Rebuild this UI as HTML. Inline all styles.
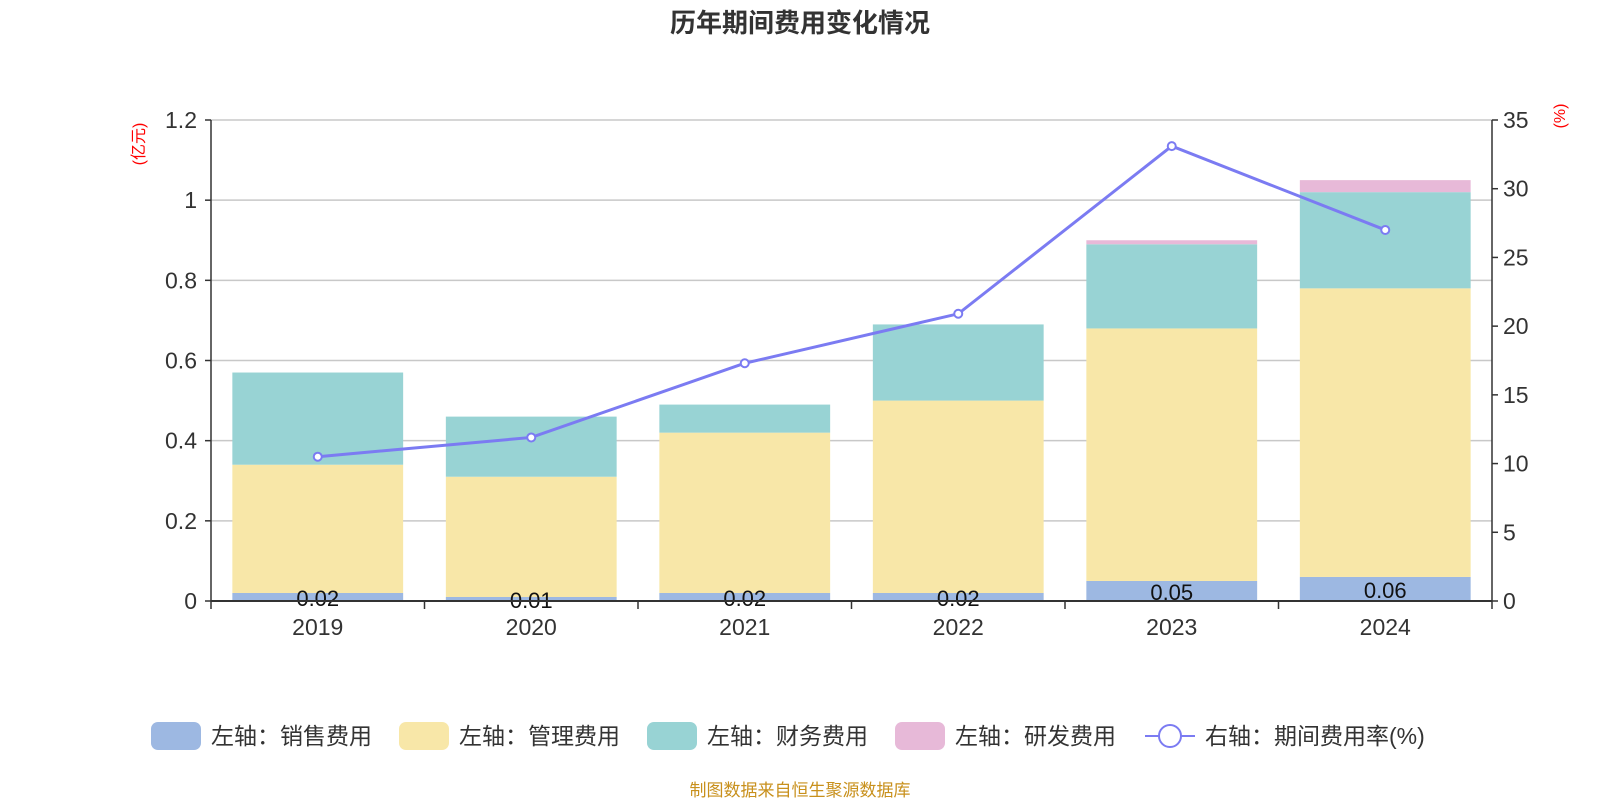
<!DOCTYPE html>
<html><head><meta charset="utf-8"><style>
body{margin:0;background:#fff;}
svg text{font-family:"Liberation Sans","Noto Sans CJK SC",sans-serif;}
</style></head><body>
<svg id="c" width="1600" height="800"></svg>
<script>
const categories=['2019','2020','2021','2022','2023','2024'];
const sales=[0.02,0.01,0.02,0.02,0.05,0.06];
const mgmt=[0.32,0.30,0.40,0.48,0.63,0.72];
const fin=[0.23,0.15,0.07,0.19,0.21,0.24];
const rd=[0,0,0,0,0.01,0.03];
const rate=[10.5,11.9,17.3,20.9,33.1,27.0];
const leftTicks=['0','0.2','0.4','0.6','0.8','1','1.2'];
const rightTicks=['0','5','10','15','20','25','30','35'];
const seriesNames=['左轴：销售费用','左轴：管理费用','左轴：财务费用','左轴：研发费用','右轴：期间费用率(%)'];
const colors=['#9db8e2','#f8e7a8','#98d3d4','#e7b9d8'];

const NS='http://www.w3.org/2000/svg';
const svg=document.getElementById('c');
function mk(t,a,p){const e=document.createElementNS(NS,t);for(const k in a)e.setAttribute(k,a[k]);(p||svg).appendChild(e);return e;}
const L=211,R=1492,T=120,B=601;
const band=(R-L)/categories.length;
const yL=v=>B-(v/1.2)*(B-T);
const yR=v=>B-(v/35)*(B-T);
const xC=i=>L+band*(i+0.5);

let t=mk('text',{x:800,y:32,'text-anchor':'middle','font-size':26,'font-weight':'bold',fill:'#333'});t.textContent='历年期间费用变化情况';


leftTicks.forEach((s,i)=>{const v=parseFloat(s),y=yL(v);
 if(i>0){const g=mk('line',{x1:L,x2:R,y1:y,y2:y,stroke:'#c8c8c8','stroke-width':1.5});}
 mk('line',{x1:L-6,x2:L,y1:y,y2:y,stroke:'#333','stroke-width':1.5});
 const tx=mk('text',{x:L-14,y:y+8,'text-anchor':'end','font-size':23,fill:'#333'});tx.textContent=s;
 
});
rightTicks.forEach(s=>{const y=yR(parseFloat(s));
 mk('line',{x1:R,x2:R+6,y1:y,y2:y,stroke:'#333','stroke-width':1.5});
 const tx=mk('text',{x:R+11,y:y+8,'font-size':23,fill:'#333'});tx.textContent=s;
 
});
let u=mk('text',{transform:'translate(144,144) rotate(-90)','text-anchor':'middle','font-size':16,fill:'red'});u.textContent='(亿元)';

u=mk('text',{transform:'translate(1565,116) rotate(-90)','text-anchor':'middle','font-size':16,fill:'red'});u.textContent='(%)';


const bw=band*0.8;
categories.forEach((c,i)=>{
 let base=0;
 [sales,mgmt,fin,rd].forEach((arr,k)=>{const v=arr[i];if(v<=0)return;
  const r=mk('rect',{x:xC(i)-bw/2,y:yL(base+v),width:bw,height:yL(base)-yL(base+v),fill:colors[k]});
  
  base+=v;});
 const lb=mk('text',{x:xC(i),y:(yL(0)+yL(sales[i]))/2+9,'text-anchor':'middle','font-size':22,fill:'#111'});lb.textContent=sales[i].toFixed(2);
 
 const xl=mk('text',{x:xC(i),y:B+34,'text-anchor':'middle','font-size':23,fill:'#333'});xl.textContent=c;
 
});
for(let i=0;i<=categories.length;i++){mk('line',{x1:L+band*i,x2:L+band*i,y1:B,y2:B+8,stroke:'#333','stroke-width':1.5});}
mk('line',{x1:L,x2:L,y1:T,y2:B,stroke:'#333','stroke-width':1.5});
mk('line',{x1:R,x2:R,y1:T,y2:B,stroke:'#333','stroke-width':1.5});
mk('line',{x1:L,x2:R,y1:B,y2:B,stroke:'#333','stroke-width':2});

const pl=mk('polyline',{points:rate.map((v,i)=>xC(i)+','+yR(v)).join(' '),fill:'none',stroke:'#7b7bf2','stroke-width':3});

rate.forEach((v,i)=>{const p=mk('circle',{cx:xC(i),cy:yR(v),r:4,fill:'#fff',stroke:'#7b7bf2','stroke-width':2});
 });

const lx=[151,399,647,895,1145];
seriesNames.forEach((n,k)=>{const g=mk('g',{});
 
 if(k<4){mk('rect',{x:lx[k],y:722,width:50,height:28,rx:7,fill:colors[k]},g);}
 else{mk('line',{x1:lx[k],x2:lx[k]+50,y1:736,y2:736,stroke:'#7b7bf2','stroke-width':2},g);mk('circle',{cx:lx[k]+25,cy:736,r:11,fill:'#fff',stroke:'#7b7bf2','stroke-width':2},g);}
 const tx=mk('text',{x:lx[k]+60,y:744,'font-size':23,fill:'#333'},g);tx.textContent=n;
});
const f=mk('text',{x:800,y:796,'text-anchor':'middle','font-size':17,fill:'#c8901c'});f.textContent='制图数据来自恒生聚源数据库';

</script>
</body></html>
